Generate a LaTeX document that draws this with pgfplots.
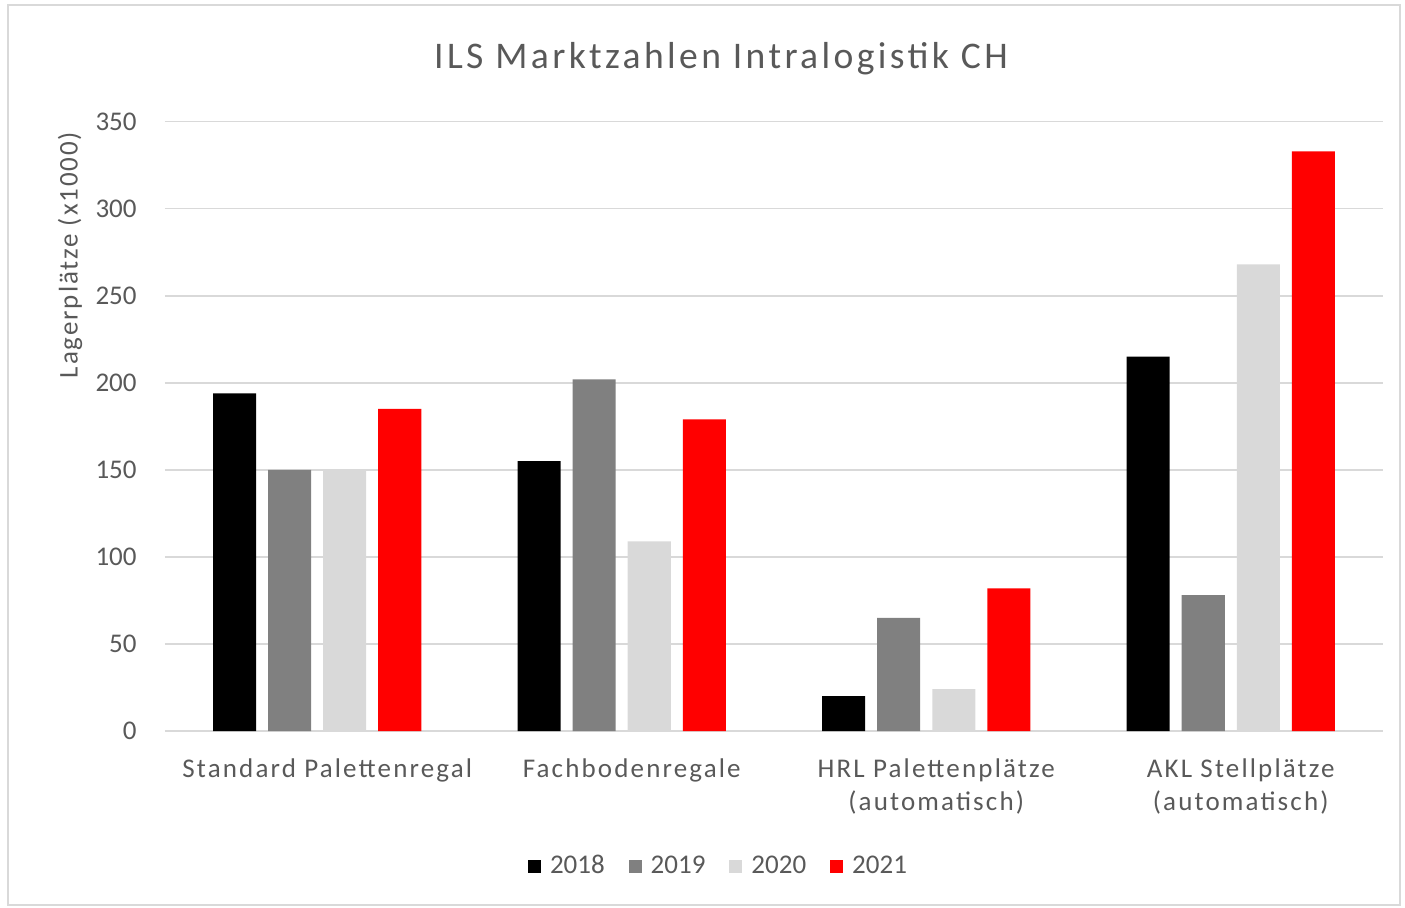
\documentclass[border=0pt]{standalone}
\usepackage{fontspec}
\setmainfont{Carlito}
\newfontfamily\spaced[LetterSpace=8]{Carlito}
\newfontfamily\yspaced[LetterSpace=7]{Carlito}
\newfontfamily\titlefont[LetterSpace=9]{Carlito}
\usepackage{pgfplots}
\pgfplotsset{compat=1.18}
\definecolor{txt}{HTML}{595959}
\definecolor{grd}{HTML}{D9D9D9}
\definecolor{g19}{HTML}{808080}
\definecolor{g20}{HTML}{D9D9D9}
\definecolor{r21}{HTML}{FF0000}
\newcommand{\lblfont}{\fontsize{13.5}{16.5}\selectfont}
\begin{document}
\begin{tikzpicture}
\useasboundingbox (0,0) rectangle (702.5pt,453.5pt);
\draw[grd, line width=0.75pt] (4pt,1pt) rectangle (700pt,451pt);
\begin{axis}[
  at={(82.5pt,88pt)}, anchor=south west, scale only axis,
  width=609pt, height=304.65pt,
  ymin=0, ymax=350, ytick={0,50,...,350},
  xmin=-0.5, xmax=3.5, xtick={0,1,2,3},
  xticklabels={Standard Palettenregal, Fachbodenregale, HRL Palettenplätze\\(automatisch), AKL Stellplätze\\(automatisch)},
  axis lines*=left,
  y axis line style={draw=none},
  x axis line style={grd, line width=0.75pt},
  major tick length=0pt,
  ymajorgrids, grid style={grd, line width=0.75pt},
  /pgf/number format/assume math mode=true,
  yticklabel style={font=\lblfont, text=txt, anchor=east, inner sep=0pt, xshift=-14pt},
  xticklabel style={font=\spaced\lblfont, text=txt, align=center, anchor=north, inner sep=0pt, yshift=-13.5pt, xshift=5pt},
  ybar, bar width=21.5pt,
  legend columns=4,
  legend style={at={(0.4536,-0.2216)}, anchor=center, draw=none, fill=none, font=\lblfont, text=txt,
    nodes={inner sep=0pt},
    /tikz/every odd column/.append style={column sep=4.5pt},
    /tikz/every even column/.append style={column sep=12pt}},
  legend image code/.code={\fill[#1, draw=none] (0pt,-3.25pt) rectangle (6.5pt,3.25pt);},
]
\addplot[fill=black, draw=none, bar shift=-41.25pt] coordinates {(0,194) (1,155) (2,20) (3,215)};
\addplot[fill=g19, draw=none, bar shift=-13.75pt] coordinates {(0,150) (1,202) (2,65) (3,78)};
\addplot[fill=g20, draw=none, bar shift=13.75pt] coordinates {(0,150) (1,109) (2,24) (3,268)};
\addplot[fill=r21, draw=none, bar shift=41.25pt] coordinates {(0,185) (1,179) (2,82) (3,333)};
\legend{2018, 2019, 2020, 2021}
\end{axis}
\node[anchor=base, text=txt, font=\titlefont\fontsize{18.8}{21}\selectfont] at (360.5pt,419.25pt) {ILS Marktzahlen Intralogistik CH};
\node[rotate=90, text=txt, font=\yspaced\lblfont] at (35pt,326pt) {Lagerplätze (x1000)};
\end{tikzpicture}
\end{document}
